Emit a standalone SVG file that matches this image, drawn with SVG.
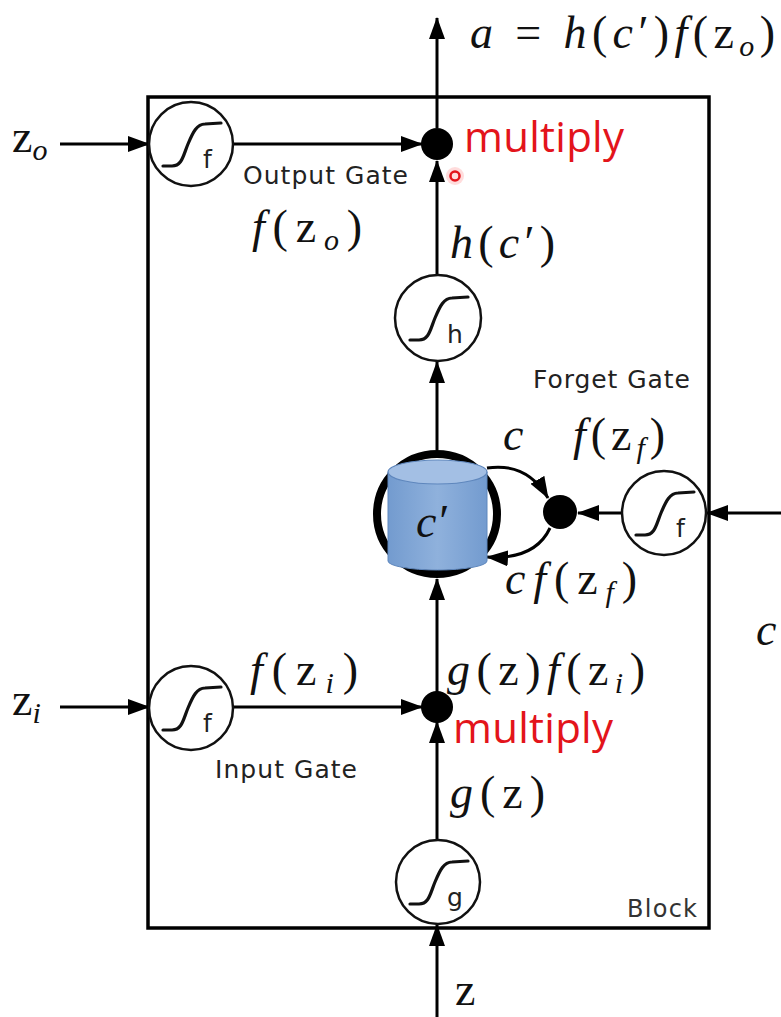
<svg xmlns="http://www.w3.org/2000/svg" xmlns:xlink="http://www.w3.org/1999/xlink" width="781" height="1017" viewBox="0 0 781 1017">
<style>
.ln{stroke:#000;stroke-width:3;fill:none}
.gate{fill:#fff;stroke:#111;stroke-width:2.5}
.sig{fill:none;stroke:#111;stroke-width:3.2;stroke-linecap:round}
.gl{font-family:"DejaVu Sans","Liberation Sans",sans-serif;font-size:25px;fill:#222}
.lt{font-family:"DejaVu Sans","Liberation Sans",sans-serif;font-size:24px;fill:#333}
.m{font-family:"Liberation Serif","DejaVu Serif",serif;font-size:46px;fill:#111}
.i{font-style:italic}
.sub{font-size:30px;font-style:italic}
.red{font-family:"Open Sans","Liberation Sans",sans-serif;font-size:42px;fill:#e3141b}
.dot{fill:#000}
</style>
<defs>
<marker id="ah" markerWidth="22" markerHeight="16" refX="21" refY="8" orient="auto" markerUnits="userSpaceOnUse">
<path d="M0,0 L22,8 L0,16 z" fill="#000"/>
</marker>
<path id="s" d="M-28,22 L-19,22 C-9,22 -8,12 -3,0 C2,-12 6,-20 14,-20 L30,-21"/>
<linearGradient id="cyl" x1="0" x2="1" y1="0" y2="0">
<stop offset="0" stop-color="#739bcf"/>
<stop offset="0.5" stop-color="#8fb1dc"/>
<stop offset="1" stop-color="#739bcf"/>
</linearGradient>
</defs>

<g id="block">
<rect x="148" y="97" width="561" height="831" fill="none" stroke="#000" stroke-width="3.5"/>
<text class="lt" x="627" y="917" textLength="70">Block</text>
</g>

<g id="connectors">
<line class="ln" x1="437" y1="128" x2="437" y2="18" marker-end="url(#ah)"/>
<line class="ln" x1="60" y1="144" x2="149" y2="144" marker-end="url(#ah)"/>
<line class="ln" x1="233" y1="144" x2="422" y2="144" marker-end="url(#ah)"/>
<line class="ln" x1="437" y1="275" x2="437" y2="161" marker-end="url(#ah)"/>
<line class="ln" x1="437" y1="450" x2="437" y2="362" marker-end="url(#ah)"/>
<line class="ln" x1="437" y1="693" x2="437" y2="579" marker-end="url(#ah)"/>
<line class="ln" x1="437" y1="840" x2="437" y2="722" marker-end="url(#ah)"/>
<line class="ln" x1="437" y1="1017" x2="437" y2="925" marker-end="url(#ah)"/>
<line class="ln" x1="60" y1="707" x2="149" y2="707" marker-end="url(#ah)"/>
<line class="ln" x1="233" y1="707" x2="422" y2="707" marker-end="url(#ah)"/>
<line class="ln" x1="781" y1="513" x2="707" y2="513" marker-end="url(#ah)"/>
<line class="ln" x1="622" y1="513" x2="578" y2="513" marker-end="url(#ah)"/>
<path class="ln" d="M487,468 Q527,462 548,498" marker-end="url(#ah)"/>
<path class="ln" d="M550,528 Q535,560 487,557" marker-end="url(#ah)"/>
</g>

<g id="output-gate">
<circle class="gate" cx="191" cy="144" r="42"/>
<use xlink:href="#s" class="sig" transform="translate(191,144)"/>
<text class="gl" x="203" y="168" font-size="27">f</text>
<text class="gl" x="243" y="184" textLength="165">Output Gate</text>
</g>

<g id="output-multiply">
<circle class="dot" cx="437" cy="144" r="16"/>
<text class="red" x="464" y="152" textLength="160">multiply</text>
<circle cx="455" cy="176" r="9" fill="#ff9a9a" opacity="0.35"/>
<circle cx="455" cy="176" r="4.5" fill="none" stroke="#e3141b" stroke-width="2.5"/>
</g>

<g id="h-node">
<circle class="gate" cx="438" cy="318" r="43"/>
<use xlink:href="#s" class="sig" transform="translate(438,318)"/>
<text class="gl" x="447" y="343" font-size="27">h</text>
</g>

<g id="cell">
<circle cx="437" cy="514" r="60" fill="#fff" stroke="#000" stroke-width="8"/>
<path d="M388,472 L388,561 A49.5,9 0 0 0 487,561 L487,472 Z" fill="url(#cyl)" stroke="#5f87bd" stroke-width="1"/>
<ellipse cx="437.5" cy="472" rx="49.5" ry="12" fill="#a3bfe4" stroke="#5f87bd" stroke-width="1.2"/>
<text class="m i" x="416" y="537">c′</text>
</g>

<g id="forget-multiply">
<circle class="dot" cx="560" cy="512" r="17"/>
</g>

<g id="forget-gate">
<circle class="gate" cx="664" cy="513" r="42"/>
<use xlink:href="#s" class="sig" transform="translate(664,513)"/>
<text class="gl" x="676" y="537" font-size="27">f</text>
<text class="gl" x="533" y="388" textLength="157">Forget Gate</text>
</g>

<g id="input-gate">
<circle class="gate" cx="191" cy="708" r="42"/>
<use xlink:href="#s" class="sig" transform="translate(191,708)"/>
<text class="gl" x="203" y="732" font-size="27">f</text>
<text class="gl" x="215" y="778" textLength="142">Input Gate</text>
</g>

<g id="input-multiply">
<circle class="dot" cx="437" cy="707" r="16"/>
<text class="red" x="453" y="743" textLength="160">multiply</text>
</g>

<g id="g-node">
<circle class="gate" cx="438" cy="882" r="42"/>
<use xlink:href="#s" class="sig" transform="translate(438,882)"/>
<text class="gl" x="447" y="906" font-size="27">g</text>
</g>

<g id="labels">
<text class="m" x="470" y="48" textLength="305"><tspan class="i">a</tspan> = <tspan class="i">h</tspan>(<tspan class="i">c</tspan>′)<tspan class="i">f</tspan>(z<tspan class="sub" dy="8">o</tspan><tspan dy="-8">)</tspan></text>
<text class="m" x="12" y="152">z<tspan class="sub" dy="8">o</tspan></text>
<text class="m" x="252" y="242" textLength="110"><tspan class="i">f</tspan>(z<tspan class="sub" dy="8">o</tspan><tspan dy="-8">)</tspan></text>
<text class="m" x="450" y="258" textLength="105"><tspan class="i">h</tspan>(<tspan class="i">c</tspan>′)</text>
<text class="m i" x="503" y="450">c</text>
<text class="m" x="573" y="450" textLength="92"><tspan class="i">f</tspan>(z<tspan class="sub" dy="8">f</tspan><tspan dy="-8">)</tspan></text>
<text class="m" x="505" y="594" textLength="132"><tspan class="i">cf</tspan>(z<tspan class="sub" dy="8">f</tspan><tspan dy="-8">)</tspan></text>
<text class="m i" x="756" y="645">c</text>
<text class="m" x="250" y="685" textLength="108"><tspan class="i">f</tspan>(z<tspan class="sub" dy="8">i</tspan><tspan dy="-8">)</tspan></text>
<text class="m" x="447" y="685" textLength="198"><tspan class="i">g</tspan>(z)<tspan class="i">f</tspan>(z<tspan class="sub" dy="8">i</tspan><tspan dy="-8">)</tspan></text>
<text class="m" x="12" y="715">z<tspan class="sub" dy="8">i</tspan></text>
<text class="m" x="450" y="808" textLength="95"><tspan class="i">g</tspan>(z)</text>
<text class="m" x="455" y="1005">z</text>
</g>
</svg>
